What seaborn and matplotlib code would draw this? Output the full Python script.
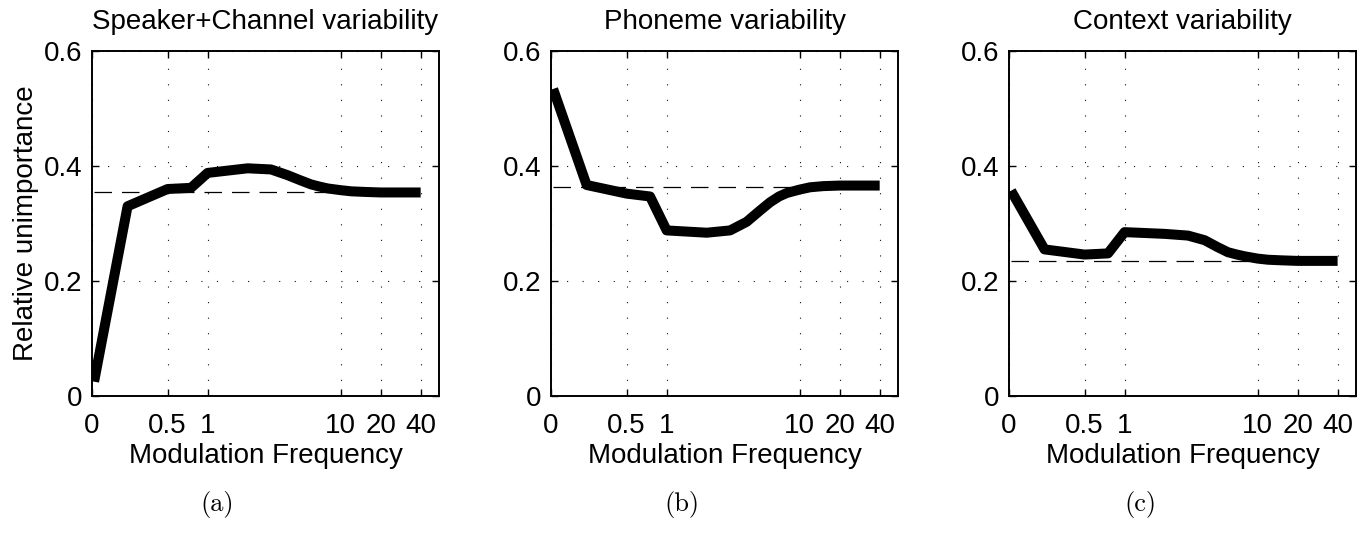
import numpy as np
import pandas as pd
import matplotlib
matplotlib.use("Agg")
import matplotlib.pyplot as plt
import seaborn as sns

# modulation frequencies (Hz); first point is the "0" band
freq = [0.14, 0.25, 0.5, 0.75, 1, 2, 3, 4, 5, 6, 7, 8, 10, 12, 15, 20, 25, 30, 40]

speaker = [0.025, 0.330, 0.360, 0.362, 0.388, 0.396, 0.394, 0.384, 0.375, 0.368,
           0.364, 0.361, 0.358, 0.356, 0.355, 0.354, 0.354, 0.354, 0.354]
phoneme = [0.534, 0.367, 0.352, 0.347, 0.288, 0.284, 0.288, 0.303, 0.322, 0.337,
           0.347, 0.353, 0.359, 0.363, 0.365, 0.366, 0.366, 0.366, 0.366]
context = [0.357, 0.255, 0.246, 0.248, 0.285, 0.282, 0.279, 0.271, 0.259, 0.250,
           0.246, 0.243, 0.239, 0.237, 0.236, 0.235, 0.235, 0.235, 0.235]

mean_levels = [0.355, 0.364, 0.234]
titles = ["Speaker+Channel variability", "Phoneme variability", "Context variability"]
panel_tags = ["(a)", "(b)", "(c)"]

xtick_pos = [0.135, 0.5, 1, 10, 20, 40]
xtick_labels = ["0", "0.5", "1", "10", "20", "40"]
yticks = [0, 0.2, 0.4, 0.6]
yticklabels = ["0", "0.2", "0.4", "0.6"]

sns.set_style("ticks")
plt.rcParams["font.family"] = ["Liberation Sans", "DejaVu Sans"]
plt.rcParams["text.color"] = "black"
plt.rcParams["axes.labelcolor"] = "black"
plt.rcParams["xtick.color"] = "black"
plt.rcParams["ytick.color"] = "black"
fs = 20

fig = plt.figure(figsize=(13.69, 5.38), dpi=100)

lefts = [0.0672, 0.4025, 0.7370]
tag_x = [0.159, 0.498, 0.833]
series = [speaker, phoneme, context]

for i, vals in enumerate(series):
    ax = fig.add_axes([lefts[i], 0.2639, 0.2535, 0.6413])
    df = pd.DataFrame({"freq": freq, "value": vals})

    ax.hlines(mean_levels[i], freq[0], freq[-1], colors="black",
              linewidth=0.9, linestyles=(0, (14, 8)), zorder=2)
    sns.lineplot(data=df, x="freq", y="value", ax=ax, color="black",
                 linewidth=7.2, solid_capstyle="butt", zorder=3)

    ax.set_xscale("log")
    ax.set_xlim(0.135, 55)
    ax.set_ylim(0, 0.6)
    ax.set_xticks(xtick_pos)
    ax.set_xticklabels(xtick_labels)
    ax.set_yticks(yticks)
    ax.set_yticklabels(yticklabels)
    ax.minorticks_off()

    ax.grid(True, which="major", linestyle=(0, (1, 13)), linewidth=0.8, color="#111111")
    ax.tick_params(direction="in", top=True, right=True, length=5, width=1,
                   labelsize=fs, colors="black")
    ax.tick_params(axis="x", pad=12)
    ax.tick_params(axis="y", pad=7)
    for s in ax.spines.values():
        s.set_visible(True)
        s.set_linewidth(1.4)
        s.set_color("black")

    ax.set_title(titles[i], fontsize=fs, pad=16, color="black")
    ax.set_xlabel("Modulation Frequency", fontsize=fs, labelpad=3)
    if i == 0:
        ax.set_ylabel("Relative unimportance", fontsize=fs, labelpad=3)
    else:
        ax.set_ylabel("")

    fig.text(tag_x[i], 0.062, panel_tags[i], ha="center", va="center",
             fontsize=19, family="cmr10", color="black")

fig.savefig("out.png", dpi=100)
